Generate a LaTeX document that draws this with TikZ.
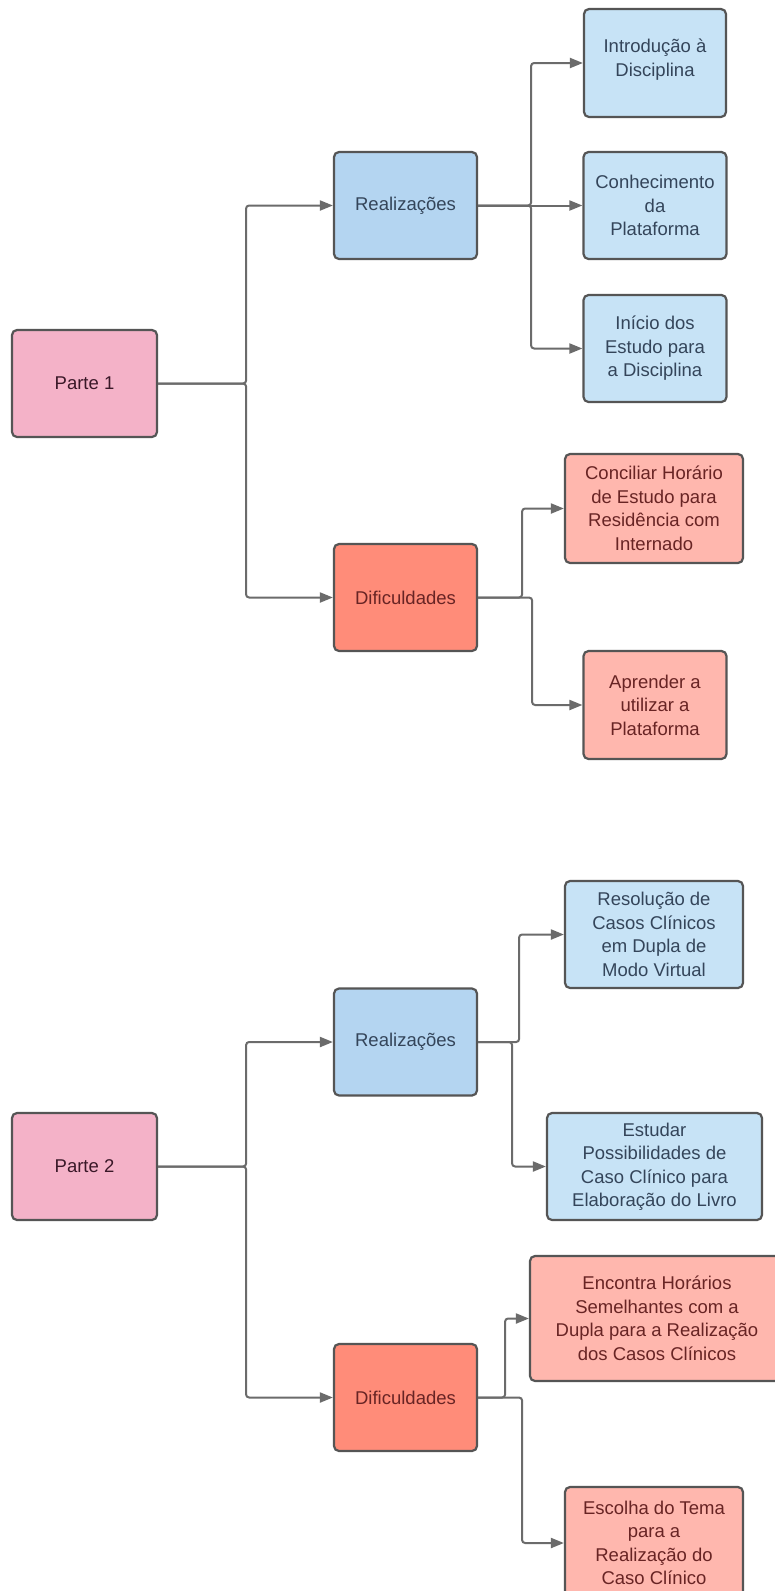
\documentclass[tikz,border=0pt]{standalone}
\usepackage{fontspec}
\setmainfont{Liberation Sans}
\usetikzlibrary{arrows.meta}
\definecolor{parteFill}{HTML}{F4B2C8}
\definecolor{realFill}{HTML}{B4D5F1}
\definecolor{leafBlue}{HTML}{C7E3F6}
\definecolor{difFill}{HTML}{FF8C79}
\definecolor{leafRed}{HTML}{FFB7AE}
\definecolor{borderGray}{HTML}{555555}
\definecolor{lineGray}{HTML}{6B6B6B}
\definecolor{txtBlue}{HTML}{34455A}
\definecolor{txtRed}{HTML}{682424}
\definecolor{txtParte}{HTML}{3A1828}
\tikzset{
  box/.style={draw=borderGray, line width=2.2pt, rounded corners=5pt, align=center,
    inner sep=2pt, minimum width=143pt, minimum height=107pt,
    font=\fontsize{18.5}{23.5}\selectfont},
  partebox/.style={box, fill=parteFill, text=txtParte, minimum width=145pt},
  realbox/.style={box, fill=realFill, text=txtBlue},
  difbox/.style={box, fill=difFill, text=txtRed},
  bluebox/.style={box, fill=leafBlue, text=txtBlue},
  redbox/.style={box, fill=leafRed, text=txtRed},
  conn/.style={draw=lineGray, line width=2pt, rounded corners=3pt,
    -{Triangle[length=13pt,width=10pt]}, color=lineGray},
}
\begin{document}
\begin{tikzpicture}[x=1pt,y=-1pt]
\clip (0,0) rectangle (775,1591);
\fill[white] (0,0) rectangle (775,1591);
% ---------- Part 1 ----------
\node[partebox] (p1) at (84.5,383.5) {Parte 1};
\node[realbox] (r1) at (405.5,205.5) {Realizações};
\node[difbox] (d1) at (405.5,597.5) {Dificuldades};
\node[bluebox, minimum width=142pt, minimum height=108pt] (intro) at (655,63) {Introdução à\\Disciplina\\[-13pt]\mbox{}};
\node[bluebox] (conh) at (655,205.5) {Conhecimento\\da\\Plataforma};
\node[bluebox] (inicio) at (655,348.5) {Início dos\\Estudo para\\a Disciplina};
\node[redbox, minimum width=178pt, minimum height=109pt] (conc) at (654,508.5) {Conciliar Horário\\de Estudo para\\Residência com\\Internado};
\node[redbox, minimum height=108pt] (apr) at (655,705) {Aprender a\\utilizar a\\Plataforma};
\draw[conn] (p1.east) -- ++(88,0) |- (r1.west);
\draw[conn] (p1.east) -- ++(88,0) |- (d1.west);
\draw[conn] (r1.east) -- ++(53,0) |- (intro.west);
\draw[conn] (r1.east) -- (conh.west);
\draw[conn] (r1.east) -- ++(53,0) |- (inicio.west);
\draw[conn] (d1.east) -- ++(44,0) |- (conc.west);
\draw[conn] (d1.east) -- ++(54,0) |- (apr.west);
% ---------- Part 2 ----------
\node[partebox] (p2) at (84.5,1166.5) {Parte 2};
\node[realbox] (r2) at (405.5,1042) {Realizações};
\node[difbox] (d2) at (405.5,1397.5) {Dificuldades};
\node[bluebox, minimum width=178pt] (reso) at (654,934.5) {Resolução de\\Casos Clínicos\\em Dupla de\\Modo Virtual};
\node[bluebox, minimum width=215pt] (estu) at (654.5,1166.5) {Estudar\\Possibilidades de\\Caso Clínico para\\Elaboração do Livro};
\node[redbox, minimum width=254pt, minimum height=125pt] (enco) at (657,1318.5) {Encontra Horários\\Semelhantes com a\\Dupla para a Realização\\dos Casos Clínicos};
\node[redbox, minimum width=178pt, minimum height=112pt] (esco) at (654,1543) {Escolha do Tema\\para a\\Realização do\\Caso Clínico};
\draw[conn] (p2.east) -- ++(88,0) |- (r2.west);
\draw[conn] (p2.east) -- ++(88,0) |- (d2.west);
\draw[conn] (r2.east) -- ++(41,0) |- (reso.west);
\draw[conn] (r2.east) -- ++(34,0) |- (estu.west);
\draw[conn] (d2.east) -- ++(27,0) |- (enco.west);
\draw[conn] (d2.east) -- ++(44,0) |- (esco.west);
\end{tikzpicture}
\end{document}
